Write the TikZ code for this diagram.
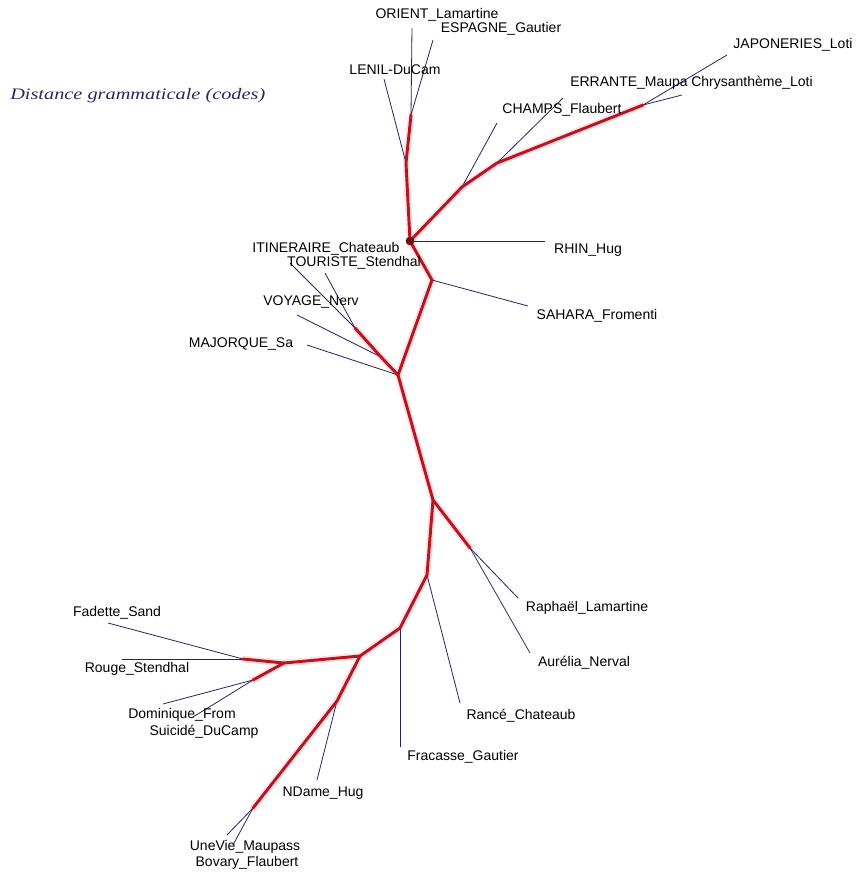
\documentclass[tikz,border=0pt]{standalone}
\usepackage{fontspec}
\setmainfont{Liberation Sans}
\newfontfamily\titrefont{Liberation Serif}
\usepackage{tikz}
\usetikzlibrary{positioning}
\definecolor{rouge}{RGB}{185,20,35}
\definecolor{marine}{RGB}{35,35,95}
\definecolor{titre}{RGB}{40,40,95}

\begin{document}
\begin{tikzpicture}[x=0.75pt, y=-0.75pt,
    tronc/.style={rouge, line width=2.2pt, line cap=round, line join=round},
    halo/.style={red!12, line width=5pt, line cap=round},
    feuille/.style={marine, line width=0.6pt},
    etiq/.style={inner sep=0pt, font=\fontsize{10.5}{12}\selectfont}]
    \useasboundingbox (0,0) rectangle (857,872);

    % titre
    \node[text=titre, inner sep=0pt, anchor=west] (titre) at (10,96)
        {\scalebox{1.27}[1]{\fontsize{12}{14}\titrefont\itshape Distance grammaticale (codes)}};

    % noeuds internes
    \coordinate (c0) at (410,241);
    \coordinate (n1) at (406,163);
    \coordinate (n2) at (411,115);
    \coordinate (n3) at (462,187);
    \coordinate (n4) at (497,163);
    \coordinate (n5) at (643,105);
    \coordinate (n6) at (432,280);
    \coordinate (n7) at (398,375);
    \coordinate (n8) at (381,357);
    \coordinate (n9) at (355,328);
    \coordinate (n10) at (433,500);
    \coordinate (n11) at (470,548);
    \coordinate (n12) at (427,575);
    \coordinate (n13) at (400,628);
    \coordinate (n14) at (360,656);
    \coordinate (n15) at (284,663);
    \coordinate (n16) at (243,659);
    \coordinate (n17) at (253,680);
    \coordinate (n18) at (337,701);
    \coordinate (n19) at (253,808);

    % extremites des feuilles
    \coordinate (eLenil) at (384,79);
    \coordinate (eOrient) at (412,28);
    \coordinate (eEspagne) at (433,40);
    \coordinate (eChamps) at (497,123);
    \coordinate (eErrante) at (563,98);
    \coordinate (eJapon) at (727,55);
    \coordinate (eChrys) at (682,95);
    \coordinate (eRhin) at (545,241);
    \coordinate (eSahara) at (528,306);
    \coordinate (eItin) at (290,263);
    \coordinate (eTour) at (325,273);
    \coordinate (eVoyage) at (297,315);
    \coordinate (eMaj) at (307,345);
    \coordinate (eRaph) at (518,598);
    \coordinate (eAur) at (530,653);
    \coordinate (eRance) at (460,703);
    \coordinate (eFrac) at (400,747);
    \coordinate (eFad) at (108,623);
    \coordinate (eRouge) at (122,659);
    \coordinate (eDom) at (163,704);
    \coordinate (eSuic) at (193,717);
    \coordinate (eNDame) at (317,780);
    \coordinate (eUneVie) at (227,835);
    \coordinate (eBov) at (233,845);

    % halo sous le tronc
    \draw[halo] (n2) -- (n1) -- (c0) -- (n3) -- (n4) -- (n5);
    \draw[halo] (c0) -- (n6) -- (n7) -- (n8) -- (n9);
    \draw[halo] (n7) -- (n10) -- (n11);
    \draw[halo] (n10) -- (n12) -- (n13) -- (n14) -- (n15) -- (n16);
    \draw[halo] (n15) -- (n17);
    \draw[halo] (n14) -- (n18) -- (n19);

    % feuilles
    \draw[feuille] (n1) -- (eLenil);
    \draw[feuille] (n2) -- (eOrient);
    \draw[feuille] (n2) -- (eEspagne);
    \draw[feuille] (n3) -- (eChamps);
    \draw[feuille] (n4) -- (eErrante);
    \draw[feuille] (n5) -- (eJapon);
    \draw[feuille] (n5) -- (eChrys);
    \draw[feuille] (c0) -- (eRhin);
    \draw[feuille] (n6) -- (eSahara);
    \draw[feuille] (n9) -- (eItin);
    \draw[feuille] (n9) -- (eTour);
    \draw[feuille] (n8) -- (eVoyage);
    \draw[feuille] (n7) -- (eMaj);
    \draw[feuille] (n11) -- (eRaph);
    \draw[feuille] (n11) -- (eAur);
    \draw[feuille] (n12) -- (eRance);
    \draw[feuille] (n13) -- (eFrac);
    \draw[feuille] (n16) -- (eFad);
    \draw[feuille] (n16) -- (eRouge);
    \draw[feuille] (n17) -- (eDom);
    \draw[feuille] (n17) -- (eSuic);
    \draw[feuille] (n18) -- (eNDame);
    \draw[feuille] (n19) -- (eUneVie);
    \draw[feuille] (n19) -- (eBov);

    % tronc rouge
    \draw[tronc] (n2) -- (n1) -- (c0) -- (n3) -- (n4) -- (n5);
    \draw[tronc] (c0) -- (n6) -- (n7) -- (n8) -- (n9);
    \draw[tronc] (n7) -- (n10) -- (n11);
    \draw[tronc] (n10) -- (n12) -- (n13) -- (n14) -- (n15) -- (n16);
    \draw[tronc] (n15) -- (n17);
    \draw[tronc] (n14) -- (n18) -- (n19);
    \node[circle, fill=rouge!60!black, inner sep=0pt, minimum size=6.5pt] (racine) at (c0) {};

    % etiquettes
    \node[etiq] (lOrient) at (437,15) {ORIENT\_Lamartine};
    \node[etiq] (lEspagne) at (501,29) {ESPAGNE\_Gautier};
    \node[etiq] (lLenil) at (395,70) {LENIL-DuCam};
    \node[etiq] (lChamps) at (562,110) {CHAMPS\_Flaubert};
    \node[etiq] (lErrante) at (629,83) {ERRANTE\_Maupa};
    \node[etiq] (lJapon) at (793,45) {JAPONERIES\_Loti};
    \node[etiq] (lChrys) at (752,83) {Chrysanthème\_Loti};
    \node[etiq] (lRhin) at (588,250) {RHIN\_Hug};
    \node[etiq] (lSahara) at (597,316) {SAHARA\_Fromenti};
    \node[etiq] (lItin) at (326,249) {ITINERAIRE\_Chateaub};
    \node[etiq] (lTour) at (354,263) {TOURISTE\_Stendhal};
    \node[etiq] (lVoyage) at (311,302) {VOYAGE\_Nerv};
    \node[etiq] (lMaj) at (241,344) {MAJORQUE\_Sa};
    \node[etiq] (lRaph) at (587,608) {Raphaël\_Lamartine};
    \node[etiq] (lAur) at (584,663) {Aurélia\_Nerval};
    \node[etiq] (lRance) at (521,716) {Rancé\_Chateaub};
    \node[etiq] (lFrac) at (463,757) {Fracasse\_Gautier};
    \node[etiq] (lFad) at (117,613) {Fadette\_Sand};
    \node[etiq] (lRouge) at (137,669) {Rouge\_Stendhal};
    \node[etiq] (lDom) at (182,715) {Dominique\_From};
    \node[etiq] (lSuic) at (204,732) {Suicidé\_DuCamp};
    \node[etiq] (lNDame) at (323,793) {NDame\_Hug};
    \node[etiq] (lUneVie) at (245,847) {UneVie\_Maupass};
    \node[etiq] (lBov) at (247,863) {Bovary\_Flaubert};
\end{tikzpicture}
\end{document}
